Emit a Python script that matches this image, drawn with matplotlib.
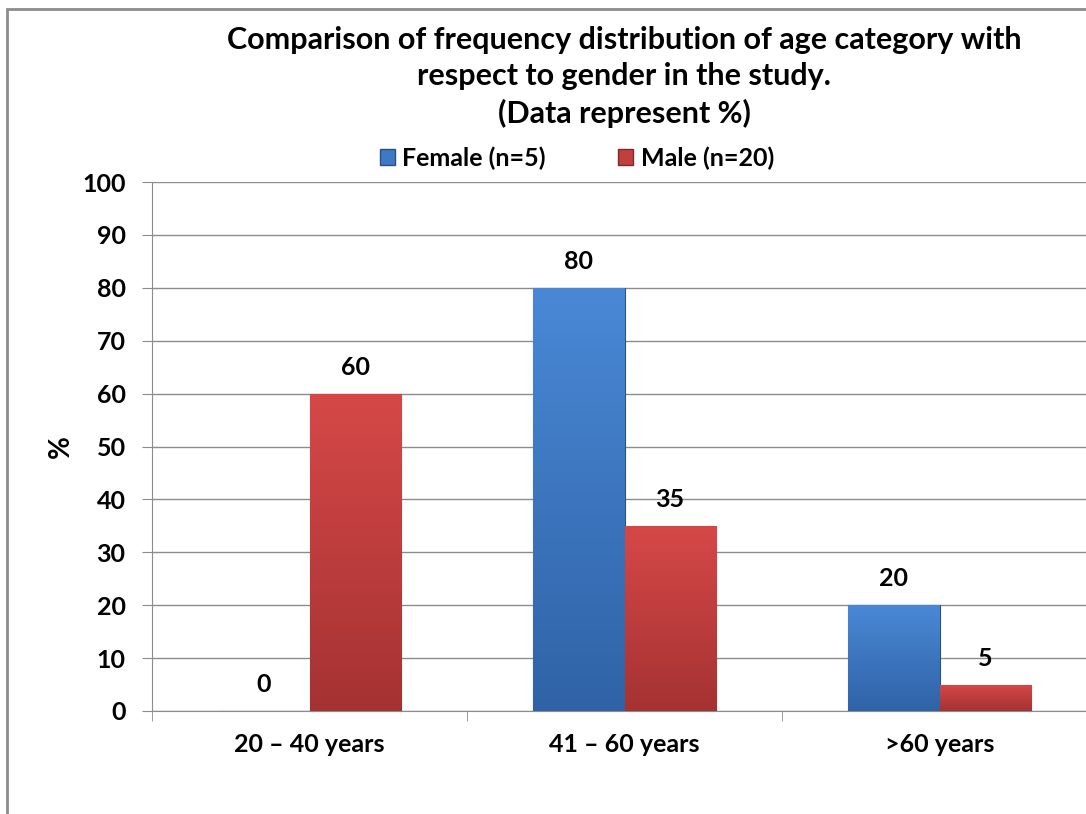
import numpy as np
import matplotlib.pyplot as plt
from matplotlib.patches import Rectangle
from matplotlib.colors import LinearSegmentedColormap

# ── Data (% of each gender group) ──
age_groups = ['20 – 40 years', '41 – 60 years', '>60 years']
female_pct = [0, 80, 20]
male_pct   = [60, 35, 5]
series_names = ['Female (n=5)', 'Male (n=20)']

plt.rcParams['font.family'] = ['Lato', 'DejaVu Sans']
plt.rcParams['font.weight'] = 'bold'

fig = plt.figure(figsize=(10.86, 8.14), dpi=100)
fig.patch.set_facecolor('white')

# chart frame (runs off the right and bottom edge)
fig.patches.append(Rectangle((7 / 1086, -0.1), 1.2, (814 - 9) / 814 + 0.1,
                             transform=fig.transFigure, fill=False,
                             edgecolor='#8c8c8c', linewidth=2))

ax = fig.add_axes([152 / 1086, 103 / 814, 945 / 1086, 529 / 814])

x = np.arange(len(age_groups))
w = 0.29
blue = LinearSegmentedColormap.from_list('b', ['#2f63a6', '#4a88d6'])
red = LinearSegmentedColormap.from_list('r', ['#a53232', '#d64848'])

def shaded_bars(xpos, vals, cmap, edge):
    bars = ax.bar(xpos, vals, w, align='edge', color=cmap(0.6),
                  edgecolor=edge, linewidth=0.8, zorder=3)
    grad = np.linspace(0, 1, 256).reshape(-1, 1)
    for b in bars:
        if b.get_height() <= 0:
            continue
        x0, y0 = b.get_x(), b.get_y()
        im = ax.imshow(grad, cmap=cmap, origin='lower', aspect='auto',
                       extent=(x0, x0 + b.get_width(), y0, y0 + b.get_height()),
                       zorder=3.5)
        im.set_clip_path(b)
    return bars

fb = shaded_bars(x - w, female_pct, blue, '#2a4f80')
mb = shaded_bars(x, male_pct, red, '#7e2a2a')

for bars, vals in ((fb, female_pct), (mb, male_pct)):
    for b, v in zip(bars, vals):
        ax.annotate(f'{v}', (b.get_x() + b.get_width() / 2, v),
                    xytext=(0, 19), textcoords='offset points',
                    ha='center', va='center', fontsize=18, fontweight='bold',
                    zorder=5)

ax.set_xlim(-0.5, 2.5)
ax.set_ylim(0, 100)
ax.set_yticks(range(0, 101, 10))
ax.set_xticks(x)
ax.set_xticklabels(age_groups)
ax.set_xticks([-0.5, 0.5, 1.5, 2.5], minor=True)
ax.tick_params(axis='x', which='major', length=0, pad=16, labelsize=18)
ax.tick_params(axis='x', which='minor', length=7, color='#8c8c8c')
ax.tick_params(axis='y', length=7, color='#8c8c8c', pad=12, labelsize=18)
for lab in ax.get_xticklabels() + ax.get_yticklabels():
    lab.set_fontweight('bold')

ax.grid(axis='y', color='#8c8c8c', linewidth=1, zorder=0)
for side in ('top', 'right'):
    ax.spines[side].set_visible(False)
for side in ('left', 'bottom'):
    ax.spines[side].set_color('#8c8c8c')
ax.set_ylabel('%', fontsize=20, fontweight='bold', labelpad=6)

fig.text(624 / 1086, 1 - 77 / 814,
         'Comparison of frequency distribution of age category with\n'
         'respect to gender in the study.\n(Data represent %)',
         ha='center', va='center', fontsize=22, fontweight='bold',
         linespacing=1.36)

ax.legend([Rectangle((0, 0), 1, 1, fc=blue(0.6), ec='#2a4f80'),
           Rectangle((0, 0), 1, 1, fc=red(0.6), ec='#7e2a2a')],
          series_names, loc='center', bbox_to_anchor=(577 / 1086, 1 - 158 / 814),
          bbox_transform=fig.transFigure, ncol=2, frameon=False,
          handlelength=0.6, handleheight=0.6,
          handletextpad=0.3, columnspacing=2.9, borderpad=0,
          prop={'weight': 'bold', 'size': 18})

fig.savefig('out.png', dpi=100)
